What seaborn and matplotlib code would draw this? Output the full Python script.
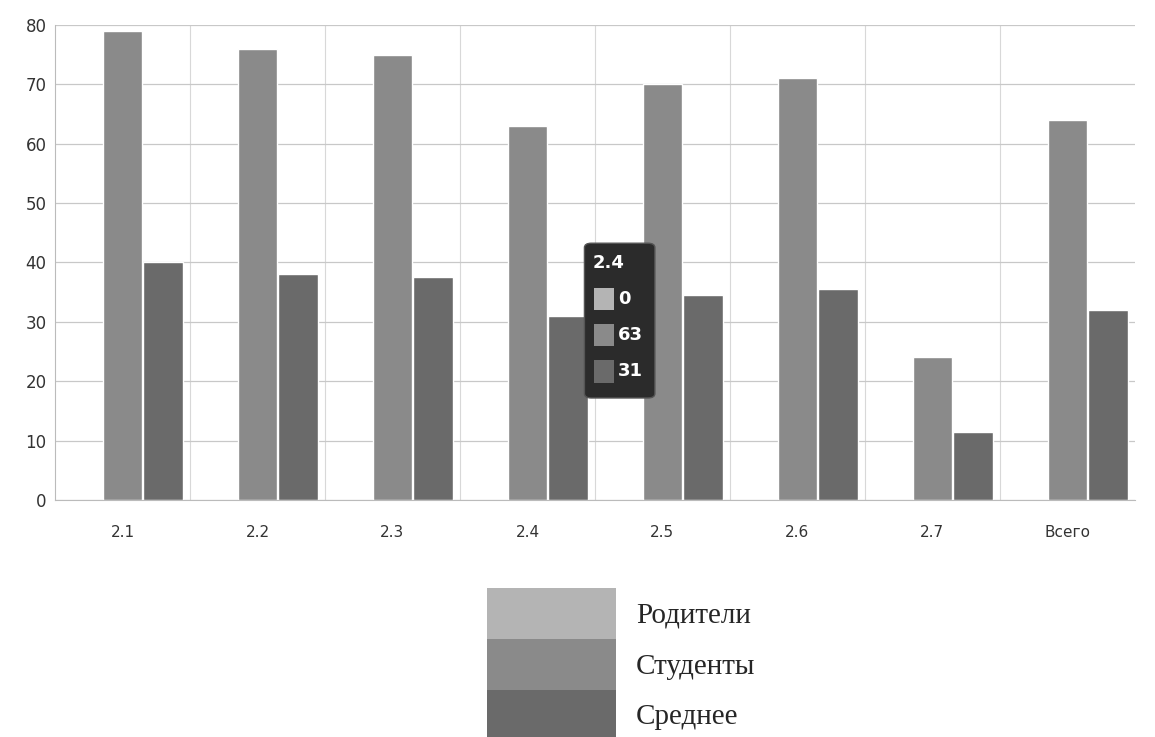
import pandas as pd
import numpy as np
import matplotlib
matplotlib.use("Agg")
import matplotlib.pyplot as plt
import seaborn as sns
from matplotlib.patches import Patch, FancyBboxPatch

# data
categories = ['2.1', '2.2', '2.3', '2.4', '2.5', '2.6', '2.7', 'Всего']
parents = [0, 0, 0, 0, 0, 0, 0, 0]
students = [79, 76, 75, 63, 70, 71, 24, 64]
average = [40, 38, 37.5, 31, 34.5, 35.5, 11.5, 32]
series = ['Родители', 'Студенты', 'Среднее']
colors = ['#b4b4b4', '#8a8a8a', '#6a6a6a']

rows = []
for i, c in enumerate(categories):
    rows.append({'cat': c, 'series': series[0], 'value': parents[i]})
    rows.append({'cat': c, 'series': series[1], 'value': students[i]})
    rows.append({'cat': c, 'series': series[2], 'value': average[i]})
df = pd.DataFrame(rows)

sns.set_style('white')
plt.rcParams['font.family'] = ['DejaVu Sans']

fig = plt.figure(figsize=(11.55, 7.37), dpi=100)
ax = fig.add_axes([0.0476, 0.3216, 0.9350, 0.6445])

sns.barplot(data=df, x='cat', y='value', hue='series', order=categories,
            hue_order=series, palette=colors, width=0.9, gap=0.03,
            saturation=1, legend=False, ax=ax)

ax.set_ylim(0, 80)
ax.set_xlim(-0.5, 7.5)
ax.set_yticks(range(0, 81, 10))
ax.set_xticks(range(len(categories)))
ax.set_xticklabels(categories)
ax.set_xticks(np.arange(0.5, 7.5, 1), minor=True)
ax.grid(axis='y', color='#c8c8c8', lw=0.9)
ax.grid(axis='x', which='minor', color='#d8d8d8', lw=0.8)
ax.set_axisbelow(True)
ax.set_xlabel('')
ax.set_ylabel('')
for s in ['top', 'right']:
    ax.spines[s].set_visible(False)
ax.spines['left'].set_color('#bbbbbb')
ax.spines['bottom'].set_color('#bbbbbb')
ax.tick_params(axis='y', labelsize=12, colors='#999999', length=4, pad=2)
ax.tick_params(axis='y', labelcolor='#333333')
ax.tick_params(axis='x', labelsize=11, labelcolor='#333333', length=0, pad=18)

# tooltip for 2.4
tip = FancyBboxPatch((0.506, 0.46), 0.061, 0.21, boxstyle='round,pad=0,rounding_size=0.006',
                     transform=fig.transFigure, facecolor='#2b2b2b', edgecolor='#555555',
                     lw=1, zorder=10)
fig.patches.append(tip)
fig.text(0.513, 0.643, '2.4', color='white', fontsize=13, fontweight='bold',
         ha='left', va='center', zorder=11)
tip_vals = [parents[3], students[3], round(average[3])]
for k, v in enumerate(tip_vals):
    yy = 0.594 - k * 0.049
    fig.patches.append(plt.Rectangle((0.514, yy - 0.015), 0.018, 0.03,
                                     transform=fig.transFigure, facecolor=colors[k],
                                     edgecolor='none', zorder=11))
    fig.text(0.535, yy, str(v), color='white', fontsize=13, fontweight='bold',
             ha='left', va='center', zorder=11)

# legend below the chart
handles = [Patch(facecolor=c, edgecolor='none') for c in colors]
fig.legend(handles, series, loc='lower left', bbox_to_anchor=(0.422, -0.005),
           frameon=False, prop={'family': 'Liberation Serif', 'size': 21},
           handlelength=4.4, handleheight=2.3, labelspacing=0.0,
           handletextpad=0.7, borderpad=0, borderaxespad=0)

fig.savefig('out.png', dpi=100)
